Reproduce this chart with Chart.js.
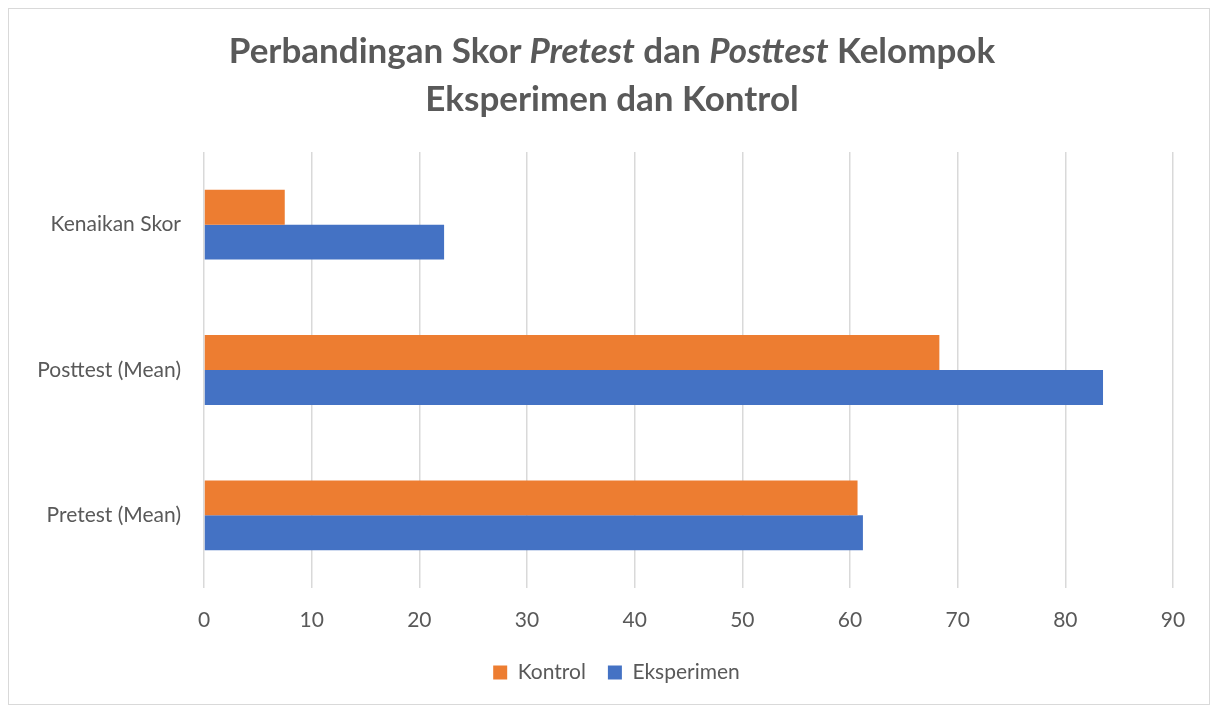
<!DOCTYPE html>
<html>
<head>
<meta charset="utf-8">
<script src="https://cdn.jsdelivr.net/npm/chart.js@4"></script>
<style>
  body { margin: 0; background: #fff; }
  #wrap { position: relative; width: 1212px; height: 707px; }
  #frame { position: absolute; left: 8px; top: 8px; width: 1200px; height: 695px; border: 1px solid #d9d9d9; }
  #title { position: absolute; left: 0; top: 25px; width: 1224px; text-align: center;
           font-family: Lato, sans-serif; font-weight: bold; font-size: 35px; line-height: 48px; color: #595959; }
  canvas { position: absolute; left: 0; top: 0; }
</style>
</head>
<body>
<div id="wrap">
  <div id="frame"></div>
  <canvas id="chart" width="1212" height="707"></canvas>
  <div id="title">Perbandingan Skor <i>Pretest</i> dan <i>Posttest</i> Kelompok<br>Eksperimen dan Kontrol</div>
</div>
<script>
var categories = ['Kenaikan Skor', 'Posttest (Mean)', 'Pretest (Mean)'];
var kontrol = [7.5, 68.3, 60.7];
var eksperimen = [22.3, 83.5, 61.2];
var xTicks = [0, 10, 20, 30, 40, 50, 60, 70, 80, 90];

// move the legend a bit right so it is centred under the plot like the original
var legendShift = {
    id: 'legendShift',
    afterLayout: function(chart) {
        chart.legend.left += 30;
        chart.legend.right += 30;
    }
};

var ctx = document.getElementById('chart').getContext('2d');
var chart = new Chart(ctx, {
    type: 'bar',
    data: {
        labels: categories,
        datasets: [
            { label: 'Kontrol', data: kontrol, backgroundColor: '#ED7D31' },
            { label: 'Eksperimen', data: eksperimen, backgroundColor: '#4472C4' }
        ]
    },
    options: {
        indexAxis: 'y',
        responsive: false,
        animation: false,
        categoryPercentage: 0.48,
        barPercentage: 1,
        layout: { padding: { top: 152, right: 39, bottom: 14, left: 0 } },
        plugins: {
            legend: {
                position: 'bottom',
                labels: {
                    boxWidth: 14, boxHeight: 14, padding: 22,
                    color: '#595959',
                    font: { family: 'Lato, sans-serif', size: 21 }
                }
            },
            tooltip: { enabled: false }
        },
        scales: {
            x: {
                min: 0, max: 90,
                afterBuildTicks: function(scale) {
                    scale.ticks = xTicks.map(function(v) { return { value: v }; });
                },
                afterFit: function(scale) { scale.height = 52; },
                border: { display: false },
                grid: { color: '#d9d9d9', lineWidth: 1.5, drawTicks: false },
                ticks: { color: '#595959', padding: 20, font: { family: 'Lato, sans-serif', size: 21 } }
            },
            y: {
                afterFit: function(scale) { scale.width = 204; },
                border: { display: false },
                grid: { display: false },
                ticks: { color: '#595959', padding: 15, font: { family: 'Lato, sans-serif', size: 21 } }
            }
        }
    },
    plugins: [legendShift]
});
</script>
</body>
</html>
